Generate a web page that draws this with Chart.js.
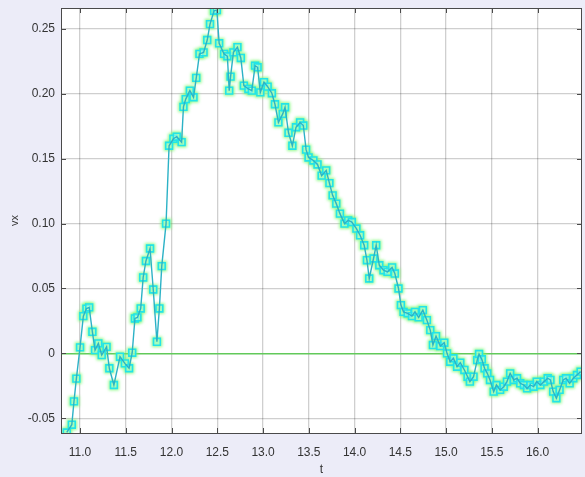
<!DOCTYPE html>
<html>
<head>
<meta charset="utf-8">
<script src="https://cdn.jsdelivr.net/npm/chart.js@4.4.1/dist/chart.umd.min.js"></script>
<style>
  html, body { margin: 0; padding: 0; background: #ececf8; }
  #wrap { width: 585px; height: 477px; }
</style>
</head>
<body>
<div id="wrap"><canvas id="c" width="585" height="477"></canvas></div>
<script>
// time samples (s)
const t = [
  10.855, 10.91, 10.934, 10.96, 11.0, 11.036, 11.07, 11.10, 11.135, 11.164,
  11.20, 11.237, 11.29, 11.32, 11.37, 11.437, 11.49, 11.536, 11.57, 11.60,
  11.627, 11.663, 11.69, 11.72, 11.765, 11.80, 11.84, 11.867, 11.893, 11.94,
  11.973, 12.02, 12.057, 12.11, 12.13, 12.155, 12.20, 12.24, 12.27, 12.305,
  12.35, 12.39, 12.42, 12.465, 12.495, 12.52, 12.574, 12.61, 12.63, 12.645,
  12.676, 12.72, 12.757, 12.79, 12.84, 12.877, 12.913, 12.94, 12.97, 13.01,
  13.05, 13.096, 13.13, 13.168, 13.215, 13.24, 13.278, 13.32, 13.36, 13.405,
  13.44, 13.47, 13.497, 13.55, 13.595, 13.64, 13.69, 13.725, 13.76, 13.80,
  13.84, 13.89, 13.93, 13.97, 14.02, 14.06, 14.105, 14.135, 14.16, 14.207,
  14.236, 14.27, 14.316, 14.36, 14.41, 14.44, 14.48, 14.506, 14.535, 14.58,
  14.627, 14.66, 14.70, 14.746, 14.79, 14.827, 14.856, 14.89, 14.936, 14.98,
  15.01, 15.045, 15.08, 15.12, 15.155, 15.20, 15.235, 15.26, 15.30, 15.34,
  15.36, 15.39, 15.42, 15.45, 15.48, 15.52, 15.55, 15.59, 15.63, 15.665,
  15.70, 15.74, 15.775, 15.81, 15.85, 15.885, 15.92, 15.956, 15.99, 16.03,
  16.07, 16.11, 16.14, 16.17, 16.205, 16.24, 16.28, 16.31, 16.35, 16.39,
  16.43, 16.47
];

// horizontal velocity
const vx = [
  -0.061, -0.055, -0.037, -0.0195, 0.0046, 0.0287, 0.0345, 0.0354, 0.0166, 0.0025,
  0.0077, -0.0013, 0.005, -0.0115, -0.0244, -0.0026, -0.0077, -0.0115, 0.0005, 0.0269,
  0.0277, 0.0346, 0.0585, 0.0712, 0.0808, 0.0492, 0.0089, 0.0346, 0.0672, 0.100,
  0.160, 0.1654, 0.167, 0.1628, 0.190, 0.196, 0.2025, 0.1974, 0.2123, 0.2308,
  0.232, 0.2415, 0.2538, 0.264, 0.2646, 0.239, 0.2308, 0.229, 0.2025, 0.2133,
  0.232, 0.236, 0.2277, 0.2064, 0.2038, 0.2025, 0.2218, 0.2205, 0.2012, 0.209,
  0.2056, 0.2005, 0.192, 0.178, 0.1846, 0.1897, 0.170, 0.160, 0.1743, 0.178,
  0.1756, 0.157, 0.151, 0.1487, 0.1456, 0.137, 0.141, 0.1312, 0.1218, 0.1154,
  0.1077, 0.100, 0.1025, 0.1012, 0.0962, 0.091, 0.0833, 0.0718, 0.0577, 0.0731,
  0.0833, 0.0679, 0.0641, 0.0628, 0.0662, 0.0615, 0.050, 0.0372, 0.032, 0.0308,
  0.0287, 0.032, 0.0277, 0.0333, 0.0256, 0.0179, 0.0064, 0.0133, 0.0056, 0.0082,
  0.0, -0.0065, -0.0038, -0.0103, -0.0072, -0.0128, -0.018, -0.0218, -0.018, -0.0052,
  -0.0005, -0.0046, -0.0115, -0.0154, -0.0205, -0.0295, -0.0244, -0.0282, -0.0257, -0.0218,
  -0.0154, -0.0205, -0.0192, -0.0231, -0.0244, -0.027, -0.0244, -0.0257, -0.0218, -0.0244,
  -0.0218, -0.0192, -0.0205, -0.0295, -0.0346, -0.0282, -0.0205, -0.0192, -0.0231, -0.0192,
  -0.0167, -0.0141
];

const xTicks = [11.0, 11.5, 12.0, 12.5, 13.0, 13.5, 14.0, 14.5, 15.0, 15.5, 16.0];
const yTicks = [-0.05, 0, 0.05, 0.10, 0.15, 0.20, 0.25];
const xRange = [10.792, 16.485];
const yRange = [-0.0614, 0.2662];

const pts = t.map((x, i) => ({ x: x, y: vx[i] }));

const FONT = '"Liberation Sans", Arial, sans-serif';
const FRAME = '#4a4a4a';

// keep the axes from reserving extra room for overhanging labels
function noOverhang(s) {
  s.paddingLeft = 0; s.paddingRight = 0; s.paddingTop = 0; s.paddingBottom = 0;
}

// white plot area, frame box and inward tick marks on all four sides
const framePlugin = {
  id: 'frame',
  beforeDraw(chart) {
    const { ctx, chartArea: a } = chart;
    ctx.save();
    ctx.fillStyle = '#ffffff';
    ctx.fillRect(a.left, a.top, a.right - a.left, a.bottom - a.top);
    ctx.restore();
  },
  afterDraw(chart) {
    const { ctx, chartArea: a, scales } = chart;
    const len = 5;
    ctx.save();
    ctx.strokeStyle = FRAME;
    ctx.lineWidth = 1;
    ctx.beginPath();
    xTicks.forEach(v => {
      const px = Math.round(scales.x.getPixelForValue(v)) + 0.5;
      ctx.moveTo(px, a.top); ctx.lineTo(px, a.top + len);
      ctx.moveTo(px, a.bottom); ctx.lineTo(px, a.bottom - len);
    });
    yTicks.forEach(v => {
      const py = Math.round(scales.y.getPixelForValue(v)) + 0.5;
      ctx.moveTo(a.left, py); ctx.lineTo(a.left + len, py);
      ctx.moveTo(a.right, py); ctx.lineTo(a.right - len, py);
    });
    ctx.stroke();
    ctx.strokeRect(Math.round(a.left) + 0.5, Math.round(a.top) + 0.5,
      Math.round(a.right - a.left) - 1, Math.round(a.bottom - a.top));
    ctx.restore();
  }
};

// soft glow behind the square markers
const glowPlugin = {
  id: 'glow',
  beforeDatasetDraw(chart, args) {
    if (chart.data.datasets[args.index].label === 'halo') {
      chart.ctx.save();
      chart.ctx.filter = 'blur(1.8px)';
    }
  },
  afterDatasetDraw(chart, args) {
    if (chart.data.datasets[args.index].label === 'halo') {
      chart.ctx.restore();
    }
  }
};

new Chart(document.getElementById('c'), {
  type: 'scatter',
  data: {
    datasets: [
      {
        label: 'vx',
        data: pts,
        showLine: true,
        borderColor: '#2cb2c6',
        borderWidth: 1.4,
        pointRadius: 0,
        order: 1
      },
      {
        label: 'markers',
        data: pts,
        showLine: false,
        pointStyle: 'rect',
        pointRadius: 4.8,
        pointBackgroundColor: 'rgba(190,255,230,0.5)',
        pointBorderColor: '#22e4e8',
        pointBorderWidth: 1.6,
        order: 2
      },
      {
        label: 'halo',
        data: pts,
        showLine: false,
        pointStyle: 'rect',
        pointRadius: 7.4,
        pointBackgroundColor: 'rgba(120,250,110,0.8)',
        pointBorderWidth: 0,
        order: 3
      }
    ]
  },
  options: {
    responsive: false,
    devicePixelRatio: 1,
    animation: false,
    layout: { autoPadding: false, padding: { top: 8, right: 3, bottom: 0, left: 0 } },
    plugins: {
      legend: { display: false },
      tooltip: { enabled: false }
    },
    scales: {
      x: {
        type: 'linear',
        min: xRange[0],
        max: xRange[1],
        afterBuildTicks: s => { s.ticks = xTicks.map(v => ({ value: v })); },
        afterFit: s => { s.height = 44; noOverhang(s); },
        border: { display: false },
        grid: {
          color: 'rgba(0,0,0,0.19)',
          lineWidth: 1.3,
          drawTicks: false
        },
        ticks: {
          autoSkip: false,
          maxRotation: 0,
          padding: 12,
          color: '#333',
          font: { family: FONT, size: 12 },
          callback: v => Number(v).toFixed(1)
        },
        title: {
          display: true,
          text: 't',
          color: '#333',
          font: { family: FONT, size: 12 },
          padding: { top: 0, bottom: 0 }
        }
      },
      y: {
        type: 'linear',
        min: yRange[0],
        max: yRange[1],
        afterBuildTicks: s => { s.ticks = yTicks.map(v => ({ value: v })); },
        afterFit: s => { s.width = 61; noOverhang(s); },
        border: { display: false },
        grid: {
          color: ctx => (ctx.tick && Math.abs(ctx.tick.value) < 1e-9) ? '#62c95a' : 'rgba(0,0,0,0.19)',
          lineWidth: ctx => (ctx.tick && Math.abs(ctx.tick.value) < 1e-9) ? 1.6 : 1.3,
          drawTicks: false
        },
        ticks: {
          autoSkip: false,
          padding: 6,
          color: '#333',
          font: { family: FONT, size: 12 },
          callback: v => Math.abs(v) < 1e-9 ? '0' : Number(v).toFixed(2)
        },
        title: {
          display: true,
          text: 'vx',
          color: '#333',
          font: { family: FONT, size: 11 },
          padding: { top: 8, bottom: 0 }
        }
      }
    }
  },
  plugins: [framePlugin, glowPlugin]
});
</script>
</body>
</html>
